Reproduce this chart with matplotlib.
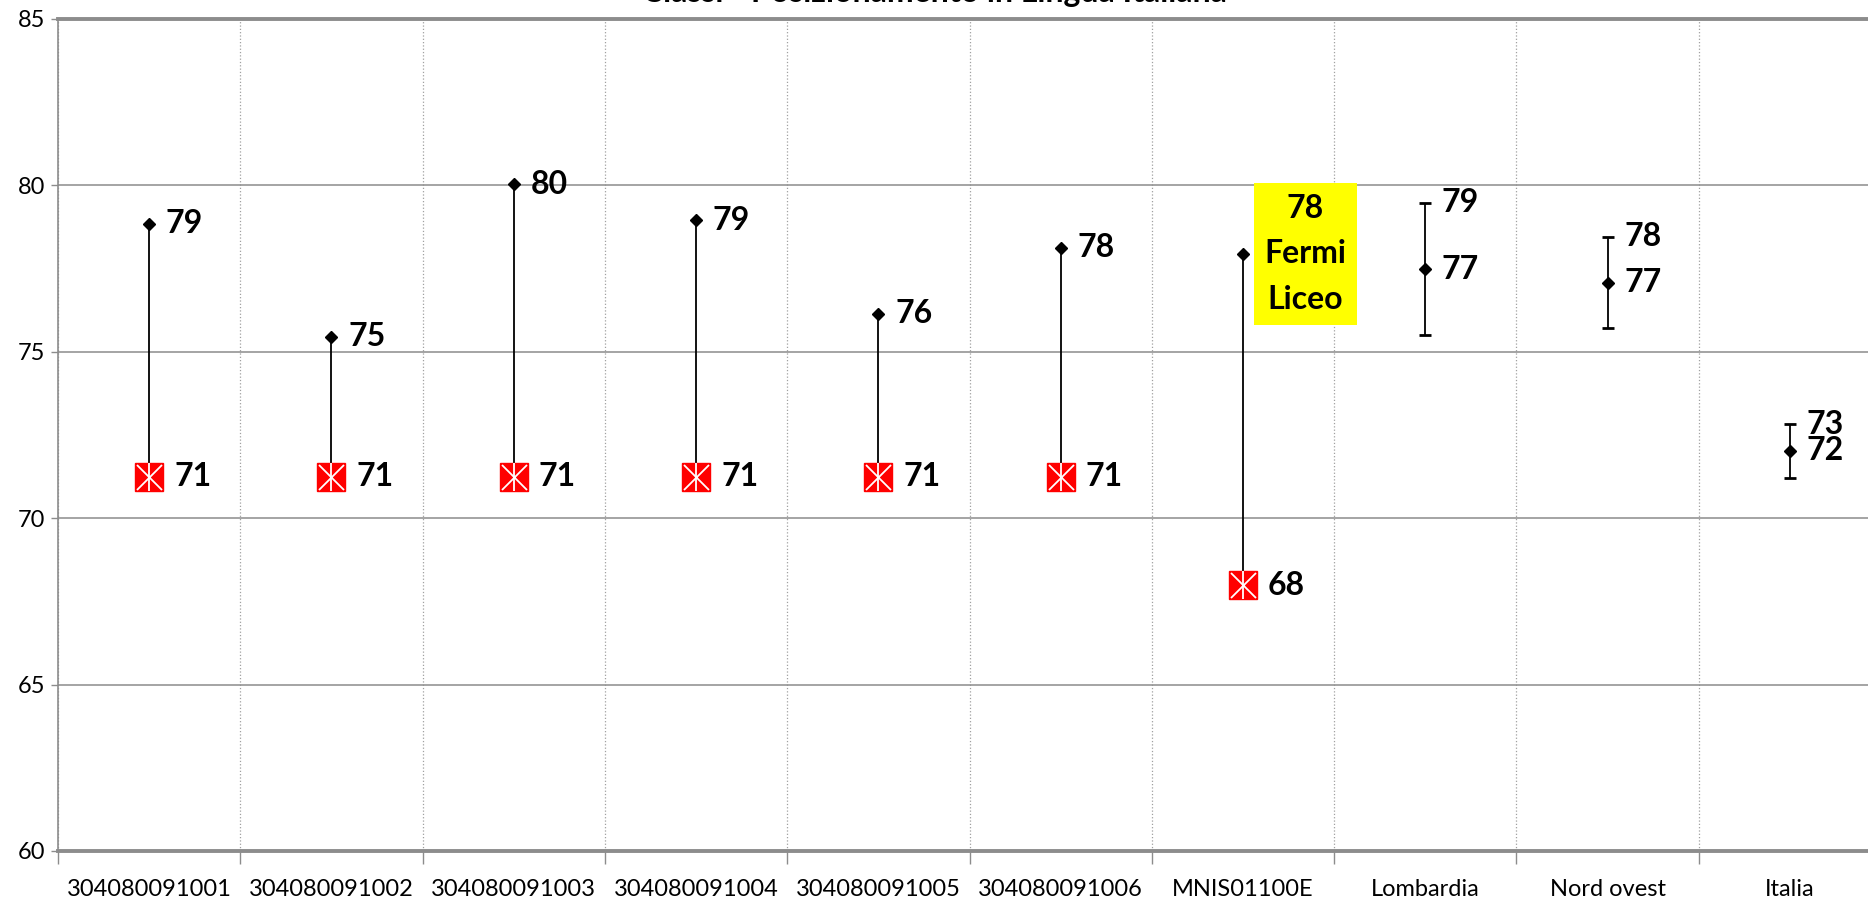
import numpy as np
import matplotlib as mpl
mpl.use('Agg')
import matplotlib.pyplot as plt

# ---------------- data ----------------
categories = ['304080091001', '304080091002', '304080091003', '304080091004',
              '304080091005', '304080091006', 'MNIS01100E',
              'Lombardia', 'Nord ovest', 'Italia']
# class scores (diamonds) for the 7 classes/school
class_scores = [78.85, 75.45, 80.03, 78.95, 76.15, 78.12, 77.94]
# red square markers for the 7 classes/school
red_scores = [71.25, 71.25, 71.25, 71.25, 71.25, 71.25, 67.99]
# reference areas: mean with range
ref_mean = [77.48, 77.08, 72.03]
ref_high = [79.48, 78.45, 72.82]
ref_low = [75.51, 75.72, 71.21]
box_text = 'Fermi\nLiceo'
title = 'Classi - Posizionamento in Lingua Italiana'
yticks = [60, 65, 70, 75, 80, 85]

# ---------------- style ----------------
W, H, dpi = 1868, 899, 100
mpl.rc('font', family=['Lato', 'DejaVu Sans'])
lab_fs = 23
tick_fs = 17

fig = plt.figure(figsize=(W/dpi, H/dpi), dpi=dpi, facecolor='white')
ax = fig.add_axes([58/W, 48/H, 1823/W, 832/H])

n = len(categories)
xc = np.arange(n) + 0.5
n_cls = len(class_scores)
x_cls = xc[:n_cls]
x_ref = xc[n_cls:]

# stems between red marker and class score
ax.vlines(x_cls, red_scores, class_scores, color='black', lw=1.3, zorder=3)
# red markers with white asterisk
ax.plot(x_cls, red_scores, ls='none', marker='s', ms=20, mfc='#ff0000',
        mec='#ff0000', zorder=4)
ax.plot(x_cls, red_scores, ls='none', marker='x', ms=18, mec='white',
        mew=1.3, zorder=5)
ax.plot(x_cls, red_scores, ls='none', marker='|', ms=20, mec='white',
        mew=1.3, zorder=5)
# class score diamonds
ax.plot(x_cls, class_scores, ls='none', marker='D', ms=6.5, color='black',
        zorder=6)
# reference ranges
m = np.array(ref_mean)
ax.errorbar(x_ref, m, yerr=[m - np.array(ref_low), np.array(ref_high) - m],
            fmt='D', ms=6.5, color='black', ecolor='black', elinewidth=1.3,
            capsize=4.5, capthick=2, zorder=6)

# ---- labels ----
lab_kw = dict(textcoords='offset points', va='center', ha='left',
              fontsize=lab_fs, fontweight='bold', color='black', zorder=7)
for i, (x, v) in enumerate(zip(x_cls, class_scores)):
    if i == n_cls - 1:
        ax.annotate(f'{v:.0f}\n' + box_text, (x, v), xytext=(45, 0),
                    textcoords='offset points', ha='center', va='center',
                    fontsize=lab_fs, fontweight='bold', linespacing=1.7,
                    bbox=dict(boxstyle='square,pad=0.33', fc='#ffff00',
                              ec='none'), zorder=7)
    else:
        ax.annotate(f'{v:.0f}', (x, v), xytext=(12, 0), **lab_kw)
for x, v in zip(x_cls, red_scores):
    ax.annotate(f'{v:.0f}', (x, v), xytext=(18, 0), **lab_kw)
for x, v, hi in zip(x_ref, ref_mean, ref_high):
    ax.annotate(f'{hi:.0f}', (x, hi), xytext=(12, 0), **lab_kw)
    ax.annotate(f'{v:.0f}', (x, v), xytext=(12, 0), **lab_kw)

# ---- axes ----
ax.set_xlim(0, n)
ax.set_ylim(60, 85)
ax.set_yticks(yticks)
ax.set_xticks(np.arange(n + 1))
ax.set_xticklabels([])
ax.set_xticks(xc, minor=True)
ax.set_xticklabels(categories, minor=True, fontsize=tick_fs)
ax.tick_params(axis='x', which='major', length=9, width=1, color='#8c8c8c',
               direction='out')
ax.tick_params(axis='x', which='minor', length=0, pad=20)
ax.tick_params(axis='y', length=5, width=1, color='#8c8c8c', labelsize=tick_fs,
               pad=4)
ax.grid(axis='y', color='#8c8c8c', lw=1.1, zorder=0)
ax.grid(axis='x', which='major', color='#a0a0a0', lw=0.9, ls=':', zorder=0)
ax.set_axisbelow(True)
ax.spines['left'].set_color('#8c8c8c')
ax.spines['left'].set_linewidth(1.2)
for s in ['top', 'bottom']:
    ax.spines[s].set_color('#8c8c8c')
    ax.spines[s].set_linewidth(2.8)
ax.spines['right'].set_visible(False)

# title, cropped at the top of the picture as in the original
fig.text(0.5, 1 - 2/H, title, ha='center', va='baseline', fontsize=lab_fs,
         fontweight='bold')

plt.savefig('out.png', dpi=dpi, facecolor='white')
